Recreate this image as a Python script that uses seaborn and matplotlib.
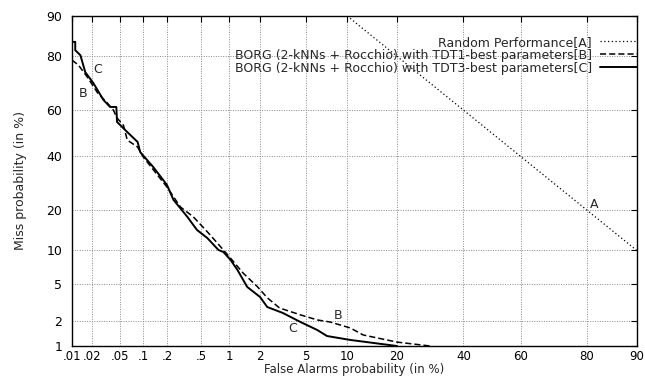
import numpy as np
import pandas as pd
import matplotlib
matplotlib.use("Agg")
import matplotlib.pyplot as plt
import seaborn as sns
from matplotlib.ticker import FixedLocator, FixedFormatter, NullLocator
from statistics import NormalDist

# ---- data (percent) ----
random_fa = [10, 90]
random_miss = [90, 10]

b_fa = [0.01, 0.0125, 0.017, 0.024, 0.033, 0.040, 0.045, 0.055, 0.062, 0.085,
        0.101, 0.20, 0.29, 0.41, 0.60, 0.75, 1.03, 1.38, 1.9, 2.33, 3.0, 4.5,
        6.1, 7.6, 10.5, 12.7, 20, 29.2]
b_miss = [78.8, 77.2, 73.0, 67.0, 62.9, 60.0, 56.6, 53.5, 47.0, 44.0,
          39.7, 27.8, 21.0, 18.0, 13.8, 11.5, 8.6, 6.3, 4.64, 3.6, 2.8, 2.35,
          2.06, 1.95, 1.66, 1.37, 1.12, 1.0]

c_fa = [0.01, 0.0112, 0.0112, 0.0134, 0.0158, 0.0208, 0.029, 0.036, 0.044, 0.045,
        0.062, 0.085, 0.092, 0.135, 0.20, 0.24, 0.35, 0.45, 0.585, 0.77, 0.87,
        1.03, 1.21, 1.51, 2.0, 2.33, 3.2, 4.5, 6.1, 7.2, 10.5, 20]
c_miss = [84.1, 84.1, 81.8, 80.3, 74.8, 70.8, 64.2, 61.3, 61.3, 54.9,
          50.5, 46.2, 41.8, 35.6, 28.6, 23.3, 18.0, 14.5, 12.6, 10.1, 9.7,
          8.3, 6.75, 4.64, 3.67, 2.87, 2.47, 1.95, 1.57, 1.33, 1.19, 1.0]

x_ticks = [0.01, 0.02, 0.05, 0.1, 0.2, 0.5, 1, 2, 5, 10, 20, 40, 60, 80, 90]
x_labels = [".01", ".02", ".05", ".1", ".2", ".5", "1", "2", "5", "10", "20",
            "40", "60", "80", "90"]
y_ticks = [1, 2, 5, 10, 20, 40, 60, 80, 90]
y_labels = ["1", "2", "5", "10", "20", "40", "60", "80", "90"]

label_names = ["Random Performance[A]",
               "BORG (2-kNNs + Rocchio) with TDT1-best parameters[B]",
               "BORG (2-kNNs + Rocchio) with TDT3-best parameters[C]"]

# ---- probit scale ----
_nd = NormalDist()
_ppf = np.vectorize(_nd.inv_cdf, otypes=[float])
_cdf = np.vectorize(_nd.cdf, otypes=[float])

def fwd(p):
    p = np.clip(np.asarray(p, dtype=float) / 100.0, 1e-12, 1 - 1e-12)
    return _ppf(p)

def inv(z):
    return 100.0 * _cdf(np.asarray(z, dtype=float))

FS = 9
FS_X = 8.5

sns.set_style("white")
plt.rcParams['font.family'] = ['DejaVu Sans']
plt.rcParams['font.size'] = FS

fig = plt.figure(figsize=(6.45, 3.77), dpi=100)
ax = fig.add_axes([72 / 645, (377 - 346) / 377, (636.7 - 72) / 645, (346 - 16) / 377])
ax.set_xscale('function', functions=(fwd, inv))
ax.set_yscale('function', functions=(fwd, inv))

df_a = pd.DataFrame({"fa": random_fa, "miss": random_miss})
df_b = pd.DataFrame({"fa": b_fa, "miss": b_miss})
df_c = pd.DataFrame({"fa": c_fa, "miss": c_miss})

sns.lineplot(data=df_a, x="fa", y="miss", ax=ax, sort=False, estimator=None,
             color="black", lw=0.9, linestyle=(0, (1, 2)), label=label_names[0])
sns.lineplot(data=df_b, x="fa", y="miss", ax=ax, sort=False, estimator=None,
             color="black", lw=1.1, linestyle=(0, (4, 2)), label=label_names[1])
sns.lineplot(data=df_c, x="fa", y="miss", ax=ax, sort=False, estimator=None,
             color="black", lw=1.4, linestyle="-", label=label_names[2])

ax.set_xlim(0.01, 90)
ax.set_ylim(1, 90)

ax.xaxis.set_major_locator(FixedLocator(x_ticks))
ax.xaxis.set_major_formatter(FixedFormatter(x_labels))
ax.yaxis.set_major_locator(FixedLocator(y_ticks))
ax.yaxis.set_major_formatter(FixedFormatter(y_labels))
ax.xaxis.set_minor_locator(NullLocator())
ax.yaxis.set_minor_locator(NullLocator())

ax.grid(True, color="#888888", linestyle=(0, (1, 1.5)), linewidth=0.7)
ax.tick_params(axis="both", direction="in", length=4, width=0.8, color="black",
               top=True, right=True, labelcolor="black")
ax.tick_params(axis="x", pad=3, labelsize=FS_X)
ax.tick_params(axis="y", pad=7, labelsize=FS)
for s in ax.spines.values():
    s.set_visible(True)
    s.set_color("black")
    s.set_linewidth(1.0)

ax.set_xlabel("False Alarms probability (in %)", fontsize=FS_X)
ax.set_ylabel("Miss probability (in %)", fontsize=FS)
ax.xaxis.set_label_coords(0.5, -0.052)
ax.yaxis.set_label_coords(-0.08, 0.5)

# curve labels
ax.text(0.024, 75.8, "C", ha="center", va="center", fontsize=FS)
ax.text(0.0149, 66.6, "B", ha="center", va="center", fontsize=FS)
ax.text(8.7, 2.29, "B", ha="center", va="center", fontsize=FS)
ax.text(3.9, 1.62, "C", ha="center", va="center", fontsize=FS)
ax.text(81.7, 21.9, "A", ha="center", va="center", fontsize=FS)

leg = ax.legend(loc="upper right", bbox_to_anchor=(1.0, 0.94), frameon=False,
                markerfirst=False, borderaxespad=0, borderpad=0,
                handlelength=2.9, handletextpad=0.7, labelspacing=0.0,
                alignment="right", fontsize=FS)

fig.savefig("out.png", dpi=100)
